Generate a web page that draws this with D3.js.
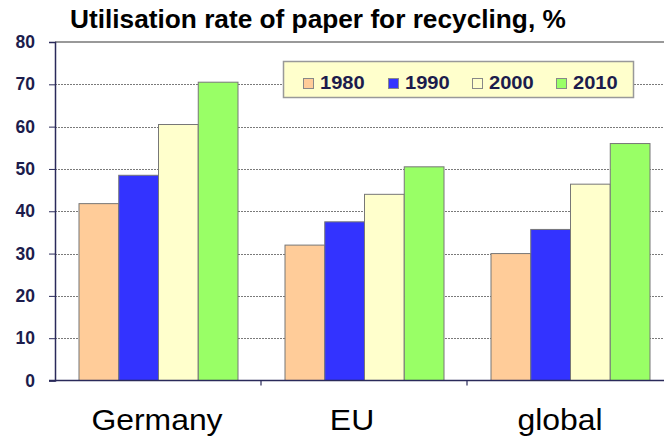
<!DOCTYPE html>
<html>
<head>
<meta charset="utf-8">
<script src="https://cdn.jsdelivr.net/npm/d3@7"></script>
<style>
  body { margin: 0; background: #fff; }
  svg { display: block; font-family: "Liberation Sans", Arial, sans-serif; }
  .ytick text { font-weight: bold; font-size: 17.5px; fill: #1c1c4c; }
</style>
</head>
<body>
<svg class="chart" width="664" height="441"></svg>
<script>
const categories = ["Germany", "EU", "global"]
const years = ["1980", "1990", "2000", "2010"]
const v1980 = [41.8, 32, 30]
const v1990 = [48.5, 37.5, 35.7]
const v2000 = [60.5, 44, 46.4]
const v2010 = [70.5, 50.5, 56]
const yTicks = [0, 10, 20, 30, 40, 50, 60, 70, 80]
const colors = ["#FFCC99", "#3333FF", "#FFFFCC", "#99FF66"]

const series = [v1980, v1990, v2000, v2010]

const svg = d3.select("svg.chart")

const plotLeft = 55, plotRight = 673, plotTop = 42, plotBottom = 380.5
const labelShift = [-1, -12, -10]

const y = d3.scaleLinear()
    .domain([0, 80])
    .range([plotBottom, plotTop])

const x = d3.scaleBand()
    .domain(categories)
    .range([plotLeft, plotRight])

const xInner = d3.scaleBand()
    .domain(years)
    .range([24, 183])

// grid lines
svg.append("g")
    .selectAll("line")
    .data(yTicks.filter(d => d > 0 && d < 80))
    .enter()
    .append("line")
    .attr("x1", plotLeft)
    .attr("x2", 664)
    .attr("y1", d => Math.round(y(d)) + 0.5)
    .attr("y2", d => Math.round(y(d)) + 0.5)
    .attr("stroke", "#7a7a7a")
    .attr("stroke-dasharray", "2,1")

// top border
svg.append("line")
    .attr("x1", plotLeft)
    .attr("x2", 664)
    .attr("y1", y(80))
    .attr("y2", y(80))
    .attr("stroke", "#999")
    .attr("stroke-width", 2)

// bars
const groups = svg.selectAll("g.cat")
    .data(categories)
    .enter()
    .append("g")
    .attr("class", "cat")
    .attr("transform", d => "translate(" + x(d) + ",0)")

groups.selectAll("rect")
    .data((d, i) => years.map((yr, j) => ({yr: yr, v: series[j][i], c: colors[j]})))
    .enter()
    .append("rect")
    .attr("x", d => xInner(d.yr))
    .attr("width", xInner.bandwidth())
    .attr("y", d => y(d.v))
    .attr("height", d => plotBottom - y(d.v))
    .attr("fill", d => d.c)
    .attr("stroke", "#777")
    .attr("stroke-width", 1)

// y axis
const yAxis = svg.append("g")
    .attr("class", "ytick")
    .attr("transform", "translate(" + plotLeft + ",0)")
    .call(d3.axisLeft(y).tickValues(yTicks).tickSize(6).tickPadding(14))
yAxis.select(".domain").attr("stroke", "#2a2a5a").attr("stroke-width", 1.5)
yAxis.selectAll(".tick line").attr("stroke", "#2a2a5a")

// x axis
svg.append("line")
    .attr("x1", plotLeft - 6)
    .attr("x2", 664)
    .attr("y1", plotBottom)
    .attr("y2", plotBottom)
    .attr("stroke", "#2a2a5a")
    .attr("stroke-width", 1.5)

svg.append("g")
    .selectAll("line")
    .data(categories.slice(1))
    .enter()
    .append("line")
    .attr("x1", d => x(d))
    .attr("x2", d => x(d))
    .attr("y1", plotBottom)
    .attr("y2", plotBottom + 5)
    .attr("stroke", "#2a2a5a")
    .attr("stroke-width", 1.2)

svg.append("g")
    .selectAll("text")
    .data(categories)
    .enter()
    .append("text")
    .attr("transform", (d, i) => "translate(" + (x(d) + x.bandwidth() / 2 + labelShift[i]) + ",430) scale(1.1,1)")
    .attr("text-anchor", "middle")
    .attr("font-size", "29px")
    .attr("fill", "#000")
    .text(d => d)

// title
svg.append("text")
    .attr("transform", "translate(70,28) scale(1.05,1)")
    .attr("font-size", "25px")
    .attr("font-weight", "bold")
    .attr("fill", "#000")
    .text("Utilisation rate of paper for recycling, %")

// legend
const legend = svg.append("g")
legend.append("rect")
    .attr("x", 283.5)
    .attr("y", 61.5)
    .attr("width", 350)
    .attr("height", 36)
    .attr("fill", "#FFFFCC")
    .attr("stroke", "#999")
    .attr("stroke-width", 1.5)

const legendX = [303, 388, 472, 556]
const items = legend.selectAll("g")
    .data(years)
    .enter()
    .append("g")
    .attr("transform", (d, i) => "translate(" + legendX[i] + ",0)")

items.append("rect")
    .attr("x", 0.5)
    .attr("y", 78.5)
    .attr("width", 10)
    .attr("height", 10)
    .attr("fill", (d, i) => colors[i])
    .attr("stroke", "#888")

items.append("text")
    .attr("transform", "translate(17,89) scale(1.15,1)")
    .attr("font-size", "17.5px")
    .attr("font-weight", "bold")
    .attr("fill", "#1c1c4c")
    .text(d => d)
</script>
</body>
</html>
